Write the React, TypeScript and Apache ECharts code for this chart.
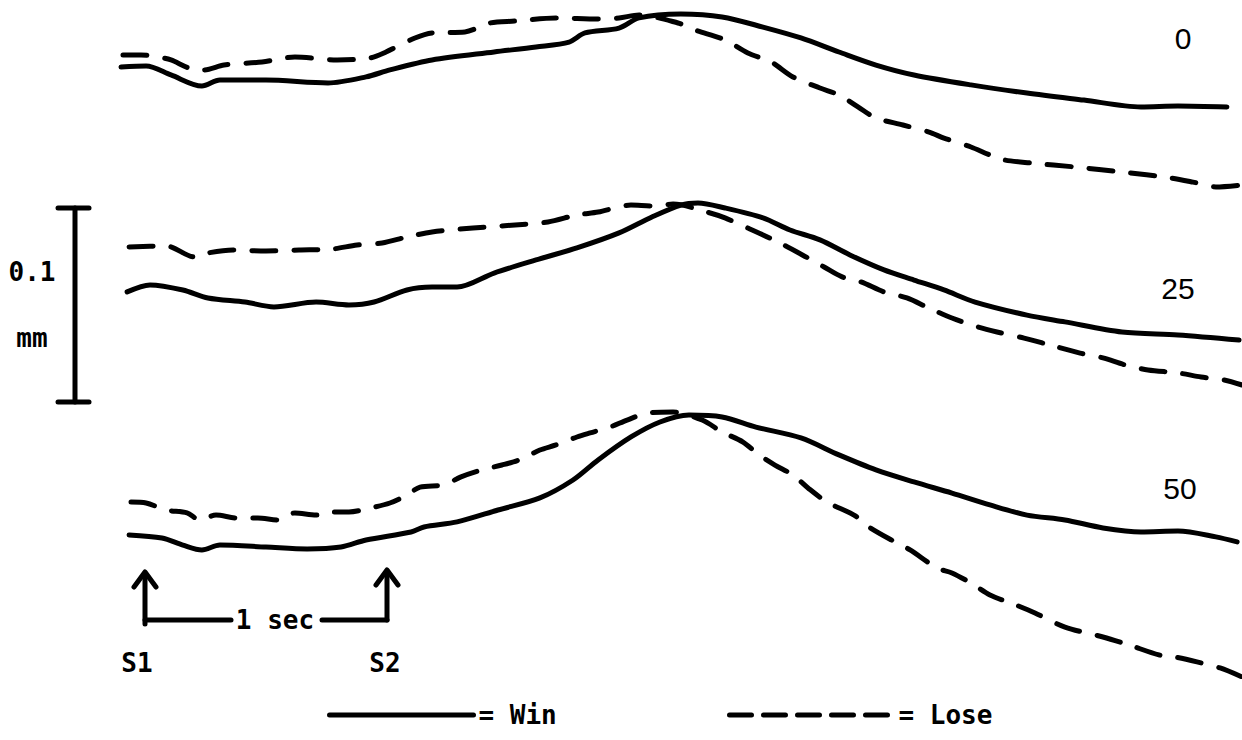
import React, { useEffect, useRef } from "react";
import * as echarts from "echarts";

// time (s, relative to S1) , displacement (µm, arbitrary baseline)
const WIN_0: [number, number][] = [
  [-0.103, 345.6], [0.0, 346.1], [0.102, 341.5], [0.229, 335.8], [0.303, 338.9], [0.492, 338.9],
  [0.747, 337.4], [0.903, 340.5], [1.001, 344.1], [1.174, 349.2], [1.429, 353.3], [1.601, 355.9],
  [1.737, 358.4], [1.802, 363.1], [1.942, 365.6], [2.024, 370.8], [2.196, 372.8], [2.365, 371.3],
  [2.533, 366.1], [2.689, 360.5], [2.845, 353.3], [2.997, 346.6], [3.153, 341.5], [3.387, 336.4],
  [3.617, 332.2], [3.851, 328.6], [4.085, 325.1], [4.237, 325.6], [4.438, 325.1],
];
const LOSE_0: [number, number][] = [
  [-0.095, 351.8], [-0.021, 351.8], [0.049, 350.7], [0.102, 349.2], [0.176, 345.1], [0.238, 344.1],
  [0.32, 346.6], [0.476, 348.2], [0.611, 350.7], [0.784, 349.2], [0.919, 350.2], [0.985, 353.3],
  [1.104, 360.5], [1.174, 363.1], [1.309, 363.6], [1.412, 368.2], [1.515, 369.2], [1.683, 370.8],
  [1.856, 370.2], [1.942, 370.8], [2.024, 372.3], [2.184, 368.2], [2.254, 364.6], [2.377, 359.5],
  [2.471, 352.8], [2.566, 348.2], [2.656, 340.5], [2.767, 334.8], [2.845, 331.2], [2.923, 325.1],
  [2.997, 319.4], [3.108, 315.8], [3.215, 312.2], [3.276, 309.1], [3.387, 304.5], [3.465, 300.4],
  [3.527, 297.8], [3.634, 296.3], [3.818, 294.2], [4.007, 291.7], [4.209, 288.6], [4.299, 286.5],
  [4.393, 284.0], [4.5, 285.0],
];
const WIN_25: [number, number][] = [
  [-0.078, 230.1], [0.016, 233.7], [0.151, 231.1], [0.254, 227.0], [0.406, 224.9], [0.525, 222.4],
  [0.698, 224.9], [0.833, 223.4], [0.936, 224.9], [1.071, 231.1], [1.174, 232.6], [1.277, 232.6],
  [1.429, 239.8], [1.601, 246.5], [1.769, 252.7], [1.942, 260.4], [2.077, 268.6], [2.196, 274.7],
  [2.266, 275.8], [2.377, 273.2], [2.533, 268.1], [2.644, 261.9], [2.767, 256.8], [2.89, 249.1],
  [3.03, 241.4], [3.153, 236.2], [3.276, 231.1], [3.404, 224.9], [3.617, 218.2], [3.773, 214.7],
  [4.007, 209.5], [4.237, 208.0], [4.488, 205.4],
];
const LOSE_25: [number, number][] = [
  [-0.07, 253.2], [0.082, 253.7], [0.201, 248.0], [0.254, 250.1], [0.357, 251.6], [0.492, 251.1],
  [0.628, 251.6], [0.763, 252.1], [0.866, 254.2], [0.969, 255.2], [1.071, 258.3], [1.174, 260.9],
  [1.342, 262.9], [1.515, 264.5], [1.65, 266.0], [1.769, 269.6], [1.856, 271.1], [1.991, 274.7],
  [2.077, 274.2], [2.164, 275.2], [2.303, 271.1], [2.377, 268.1], [2.471, 262.9], [2.595, 255.7],
  [2.718, 247.5], [2.784, 242.9], [2.858, 237.8], [2.936, 235.2], [3.03, 230.1], [3.124, 227.0],
  [3.215, 221.8], [3.309, 216.7], [3.416, 212.1], [3.494, 209.5], [3.605, 206.4], [3.712, 202.8],
  [3.835, 198.7], [3.929, 196.2], [4.02, 192.6], [4.114, 190.0], [4.237, 188.5], [4.332, 186.4],
  [4.426, 184.9], [4.5, 182.3],
];
const WIN_50: [number, number][] = [
  [-0.07, 105.3], [0.065, 103.7], [0.151, 100.1], [0.229, 97.6], [0.303, 100.1], [0.492, 99.1],
  [0.661, 98.1], [0.8, 99.1], [0.903, 102.7], [1.088, 106.8], [1.141, 109.4], [1.277, 112.0],
  [1.445, 118.1], [1.617, 124.3], [1.753, 133.5], [1.856, 143.8], [1.991, 155.6], [2.11, 163.3],
  [2.229, 166.9], [2.365, 165.9], [2.504, 160.7], [2.689, 155.1], [2.845, 146.4], [2.997, 138.7],
  [3.153, 132.5], [3.309, 126.8], [3.465, 120.7], [3.617, 115.5], [3.773, 113.0], [3.929, 108.9],
  [4.085, 106.8], [4.237, 107.3], [4.393, 104.3], [4.48, 101.7],
];
const LOSE_50: [number, number][] = [
  [-0.062, 122.2], [0.0, 121.7], [0.082, 118.1], [0.168, 116.6], [0.221, 113.0], [0.287, 115.5],
  [0.373, 114.0], [0.459, 114.0], [0.542, 113.0], [0.611, 116.6], [0.698, 115.5], [0.763, 117.1],
  [0.833, 117.1], [0.919, 119.1], [1.001, 121.7], [1.071, 125.8], [1.125, 129.9], [1.223, 131.0],
  [1.293, 135.1], [1.379, 138.7], [1.461, 141.2], [1.531, 143.8], [1.617, 148.9], [1.683, 151.5],
  [1.769, 155.6], [1.823, 157.7], [1.905, 160.7], [1.975, 164.3], [2.061, 167.9], [2.164, 168.4],
  [2.283, 164.3], [2.365, 158.2], [2.451, 153.0], [2.517, 146.4], [2.582, 141.2], [2.656, 136.1],
  [2.718, 129.4], [2.796, 122.2], [2.907, 115.5], [2.968, 109.4], [3.075, 101.7], [3.137, 97.6],
  [3.248, 88.3], [3.309, 85.8], [3.387, 80.6], [3.465, 74.5], [3.572, 69.3], [3.65, 65.2],
  [3.773, 58.0], [3.929, 52.9], [4.036, 48.8], [4.159, 43.7], [4.225, 42.6], [4.315, 40.1],
  [4.41, 37.0], [4.5, 32.4],
];

const GROUP_LABELS = ["0", "25", "50"];
const SERIES_NAMES = ["Win", "Lose"];

const MONO = "'DejaVu Sans Mono', 'Liberation Mono', monospace";
const SANS = "'Liberation Sans', Arial, sans-serif";
const INK = "#000";
const LW = 5;
const DASH = [24, 18];

export default function App() {
  const ref = useRef<HTMLDivElement>(null);

  useEffect(() => {
    if (!ref.current) return;
    const chart = echarts.init(ref.current, undefined, { renderer: "svg" });

    const line = (name: string, data: [number, number][], dashed: boolean) => ({
      type: "line",
      name,
      data,
      symbol: "none",
      showSymbol: false,
      smooth: 0.3,
      lineStyle: {
        color: INK,
        width: LW,
        type: dashed ? DASH : "solid",
        cap: "round",
        join: "round",
      },
      itemStyle: { color: INK },
      silent: true,
    });

    const monoText = (text: string, x: number, y: number, align = "center") => ({
      type: "text",
      x,
      y,
      style: {
        text,
        fill: INK,
        font: `bold 26px ${MONO}`,
        align,
        verticalAlign: "middle",
      },
    });
    const sansText = (text: string, x: number, y: number) => ({
      type: "text",
      x,
      y,
      style: { text, fill: INK, font: `30px ${SANS}`, align: "center", verticalAlign: "middle" },
    });
    const seg = (x1: number, y1: number, x2: number, y2: number) => ({
      type: "line",
      shape: { x1, y1, x2, y2 },
      style: { stroke: INK, lineWidth: LW, lineCap: "round" },
    });
    const head = (x: number, y: number) => ({
      type: "polyline",
      shape: { points: [[x - 11, y + 15], [x, y], [x + 11, y + 15]] },
      style: { stroke: INK, lineWidth: 5, fill: "none", lineCap: "round", lineJoin: "round" },
    });

    const legendText = { fontFamily: MONO, fontSize: 26, fontWeight: "bold", color: INK };
    const hiddenSymbol = { color: "rgba(0,0,0,0)", borderColor: "rgba(0,0,0,0)", borderWidth: 0, opacity: 0 };

    chart.setOption({
      animation: false,
      backgroundColor: "#fff",
      grid: { left: 0, right: 0, top: 0, bottom: 0, containLabel: false },
      xAxis: { type: "value", min: -0.6, max: 4.5, show: false },
      yAxis: { type: "value", min: 0, max: 380, show: false },
      legend: [
        {
          data: [{ name: SERIES_NAMES[0] }],
          left: 322,
          top: 697,
          itemWidth: 144,
          itemHeight: 14,
          itemGap: 0,
          selectedMode: false,
          formatter: (n: string) => `= ${n}`,
          itemStyle: hiddenSymbol,
          lineStyle: { width: LW, color: INK, cap: "round" },
          textStyle: legendText,
        },
        {
          data: [{ name: SERIES_NAMES[1] }],
          left: 722,
          top: 697,
          itemWidth: 164,
          itemHeight: 14,
          itemGap: 0,
          selectedMode: false,
          formatter: (n: string) => `= ${n}`,
          itemStyle: hiddenSymbol,
          lineStyle: { width: LW, color: INK, type: [22, 12], cap: "round" },
          textStyle: legendText,
        },
      ],
      series: [
        line(SERIES_NAMES[0], WIN_0, false),
        line(SERIES_NAMES[1], LOSE_0, true),
        line(SERIES_NAMES[0], WIN_25, false),
        line(SERIES_NAMES[1], LOSE_25, true),
        line(SERIES_NAMES[0], WIN_50, false),
        line(SERIES_NAMES[1], LOSE_50, true),
      ],
      graphic: [
        // scale bar 0.1 mm
        seg(75, 208, 75, 402),
        seg(58, 208, 89, 208),
        seg(58, 402, 89, 402),
        monoText("0.1", 32, 272),
        monoText("mm", 32, 338),
        // stimulus markers
        seg(145, 574, 145, 624),
        head(145, 572),
        seg(387, 572, 387, 620),
        head(387, 570),
        seg(145, 620, 231, 620),
        seg(322, 620, 387, 620),
        monoText("1 sec", 275, 620),
        monoText("S1", 137, 663),
        monoText("S2", 385, 663),
        // group labels
        sansText(GROUP_LABELS[0], 1183, 38),
        sansText(GROUP_LABELS[1], 1178, 288),
        sansText(GROUP_LABELS[2], 1180, 488),
      ],
    });

    return () => chart.dispose();
  }, []);

  return (
    <div
      ref={ref}
      style={{ position: "fixed", left: 0, top: 0, width: 1242, height: 740, background: "#fff" }}
    />
  );
}
